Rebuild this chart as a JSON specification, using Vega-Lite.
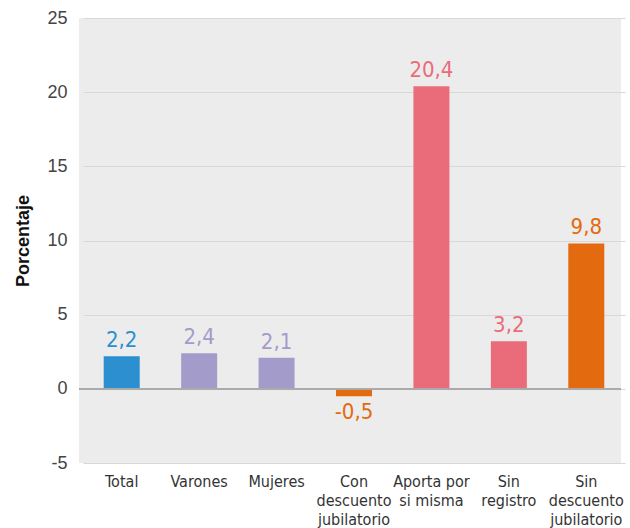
{
  "$schema": "https://vega.github.io/schema/vega-lite/v6.json",
  "autosize": "none",
  "width": 542,
  "height": 445,
  "padding": {"left": 79, "top": 18, "right": 9, "bottom": 65},
  "background": "white",
  "config": {
    "locale": {"number": {"decimal": ",", "thousands": ".", "grouping": [3], "currency": ["", " €"], "minus": "-"}},
    "view": {"fill": "#ececec", "stroke": null},
    "font": "Liberation Sans"
  },
  "data": {
    "values": [
      {"categoria": "Total", "valor": 2.2},
      {"categoria": "Varones", "valor": 2.4},
      {"categoria": "Mujeres", "valor": 2.1},
      {"categoria": "Con|descuento|jubilatorio", "valor": -0.5},
      {"categoria": "Aporta por|si misma", "valor": 20.4},
      {"categoria": "Sin|registro", "valor": 3.2},
      {"categoria": "Sin|descuento|jubilatorio", "valor": 9.8}
    ]
  },
  "encoding": {
    "x": {
      "field": "categoria",
      "type": "nominal",
      "sort": null,
      "scale": {"paddingInner": 0.02, "paddingOuter": 0.01, "range": [4, 546]},
      "axis": {
        "title": null,
        "domain": false,
        "ticks": false,
        "labelAngle": 0,
        "labelExpr": "split(datum.label, '|')",
        "labelFont": "DejaVu Sans Condensed, Liberation Sans",
        "labelFontSize": 16,
        "labelColor": "#333333",
        "labelPadding": 10,
        "labelLineHeight": 19,
        "labelBaseline": "top"
      }
    },
    "y": {
      "field": "valor",
      "type": "quantitative",
      "scale": {"domain": [-5, 25], "nice": false, "zero": false},
      "axis": {
        "title": "Porcentaje",
        "titleFontSize": 18,
        "titleFontWeight": "bold",
        "titleColor": "#111111",
        "titlePadding": 14,
        "values": [-5, 0, 5, 10, 15, 20, 25],
        "format": "d",
        "domain": false,
        "ticks": false,
        "labelFontSize": 18,
        "labelColor": "#444444",
        "labelPadding": 12,
        "gridColor": "#d8d8d8",
        "gridWidth": 1
      }
    },
    "color": {
      "field": "categoria",
      "type": "nominal",
      "legend": null,
      "scale": {
        "domain": ["Total", "Varones", "Mujeres", "Con|descuento|jubilatorio", "Aporta por|si misma", "Sin|registro", "Sin|descuento|jubilatorio"],
        "range": ["#2b8fd0", "#a39bca", "#a39bca", "#e36a0e", "#ea6c7a", "#ea6c7a", "#e36a0e"]
      }
    }
  },
  "layer": [
    {"mark": {"type": "bar", "width": 36}},
    {
      "mark": {"type": "rule", "color": "#aaaaaa", "strokeWidth": 1.5},
      "encoding": {"x": null, "color": null, "y": {"datum": 0, "type": "quantitative"}}
    },
    {
      "transform": [{"filter": "datum.valor >= 0"}],
      "mark": {"type": "text", "baseline": "bottom", "dy": -4, "font": "DejaVu Sans Condensed, Liberation Sans", "fontSize": 22},
      "encoding": {"text": {"field": "valor", "type": "quantitative", "format": ".1f"}}
    },
    {
      "transform": [{"filter": "datum.valor < 0"}],
      "mark": {"type": "text", "baseline": "top", "dy": 6, "font": "DejaVu Sans Condensed, Liberation Sans", "fontSize": 22},
      "encoding": {"text": {"field": "valor", "type": "quantitative", "format": ".1f"}}
    }
  ]
}
